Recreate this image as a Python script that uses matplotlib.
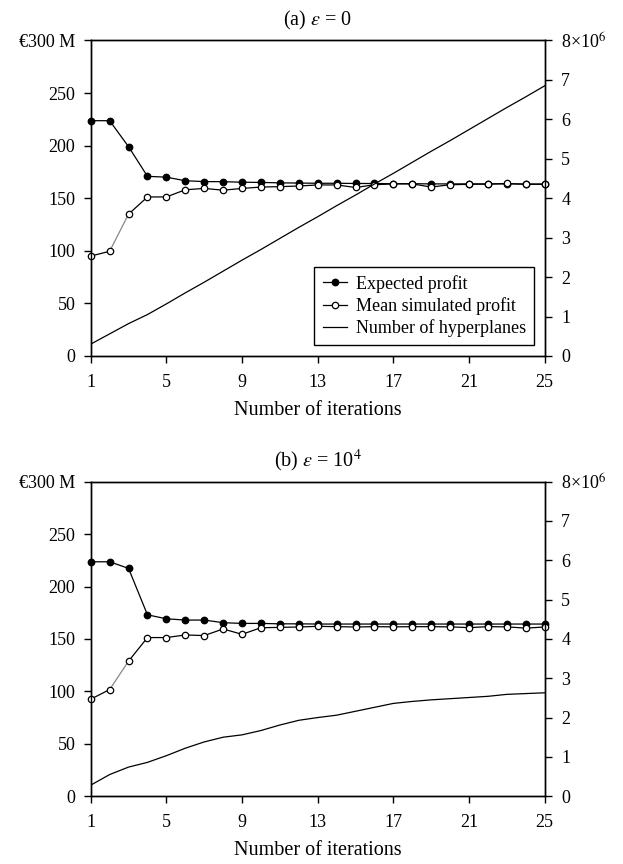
import matplotlib
matplotlib.use("Agg")
import matplotlib.pyplot as plt
from matplotlib.lines import Line2D

plt.rcParams['font.family'] = ['Liberation Serif', 'DejaVu Serif']
plt.rcParams['mathtext.fontset'] = 'stix'

iterations = list(range(1, 26))

# panel (a), epsilon = 0
expected_a = [223.7, 223.7, 199.0, 170.8, 170.0, 166.6, 165.8, 165.7, 165.2, 165.0,
              164.6, 164.4, 164.2, 164.2, 164.0, 164.0, 163.8, 163.8, 163.6, 163.6,
              163.6, 163.6, 163.6, 163.5, 163.5]
simulated_a = [95.0, 99.5, 134.8, 151.2, 151.2, 158.0, 159.3, 157.6, 159.3, 160.6,
               161.0, 161.6, 162.6, 162.6, 160.2, 162.8, 163.6, 163.6, 160.6, 162.8,
               163.2, 163.4, 164.0, 163.2, 163.2]
hyperplanes_a = [0.30, 0.56, 0.82, 1.05, 1.32, 1.60, 1.87, 2.15, 2.43, 2.70,
                 2.98, 3.26, 3.53, 3.81, 4.08, 4.36, 4.63, 4.91, 5.19, 5.46,
                 5.74, 6.02, 6.30, 6.57, 6.85]

# panel (b), epsilon = 10^4
expected_b = [223.6, 223.6, 217.3, 173.0, 169.2, 168.0, 168.0, 165.5, 164.8, 164.8,
              164.4, 164.4, 164.2, 164.2, 164.2, 164.2, 164.2, 164.2, 164.2, 164.2,
              164.2, 164.2, 164.2, 164.2, 164.2]
simulated_b = [92.5, 101.7, 128.8, 151.3, 151.3, 153.8, 153.2, 159.5, 154.4, 160.7,
               161.0, 161.4, 162.0, 161.7, 161.4, 161.7, 161.5, 161.7, 161.7, 161.5,
               160.8, 161.7, 161.5, 160.3, 161.4]
hyperplanes_b = [0.28, 0.55, 0.74, 0.86, 1.03, 1.22, 1.38, 1.50, 1.56, 1.67,
                 1.81, 1.93, 2.00, 2.06, 2.16, 2.26, 2.36, 2.41, 2.45, 2.48,
                 2.51, 2.54, 2.59, 2.61, 2.63]

left_ticks = [0, 50, 100, 150, 200, 250, 300]
left_labels = ['0', '50', '100', '150', '200', '250', '€300 M']
right_ticks = [0, 1, 2, 3, 4, 5, 6, 7, 8]
right_labels = ['0', '1', '2', '3', '4', '5', '6', '7', r'8×10$^{6}$']
x_ticks = [1, 5, 9, 13, 17, 21, 25]

TICK_FS = 13
LABEL_FS = 14.5


def draw_panel(ax, title, expected, simulated, hyperplanes, legend=False):
    lw = 0.9
    ms = 4.6
    ax.plot(iterations, expected, color='black', lw=lw, marker='o', ms=ms,
            mfc='black', mec='black', clip_on=False, zorder=4)
    # the segment between iterations 2 and 3 is grey in the original
    ax.plot(iterations[:2], simulated[:2], color='black', lw=lw, zorder=3)
    ax.plot(iterations[1:3], simulated[1:3], color='#888888', lw=lw, zorder=3)
    ax.plot(iterations[2:], simulated[2:], color='black', lw=lw, zorder=3)
    ax.plot(iterations, simulated, ls='none', marker='o', ms=ms, mfc='white',
            mec='black', mew=0.9, clip_on=False, zorder=5)

    ax.set_xlim(1, 25)
    ax.set_ylim(0, 300)
    ax.set_xticks(x_ticks)
    ax.set_yticks(left_ticks)
    ax.set_yticklabels(left_labels)
    ax.tick_params(direction='out', length=5, width=1, labelsize=TICK_FS)
    ax.tick_params(axis='x', pad=8)
    ax.tick_params(axis='y', pad=6)
    ax.set_xlabel('Number of iterations', fontsize=LABEL_FS, labelpad=7)
    ax.set_title(title, fontsize=LABEL_FS, pad=11)
    for s in ax.spines.values():
        s.set_linewidth(1)

    ax2 = ax.twinx()
    ax2.plot(iterations, hyperplanes, color='black', lw=lw)
    ax2.set_ylim(0, 8)
    ax2.set_yticks(right_ticks)
    ax2.set_yticklabels(right_labels)
    ax2.tick_params(direction='out', length=5, width=1, labelsize=TICK_FS, pad=7)
    for s in ax2.spines.values():
        s.set_linewidth(1)

    if legend:
        handles = [
            Line2D([], [], color='black', lw=lw, marker='o', ms=ms, mfc='black'),
            Line2D([], [], color='black', lw=lw, marker='o', ms=ms, mfc='white', mew=0.9),
            Line2D([], [], color='black', lw=lw),
        ]
        labels = ['Expected profit', 'Mean simulated profit', 'Number of hyperplanes']
        leg = ax2.legend(handles, labels, loc='lower right', fontsize=TICK_FS,
                         fancybox=False, framealpha=1, edgecolor='black',
                         borderaxespad=0.58, borderpad=0.45, labelspacing=0.25,
                         handlelength=1.35, handletextpad=0.5)
        leg.get_frame().set_linewidth(1)


fig = plt.figure(figsize=(6.23, 8.64), dpi=100)
ax_a = fig.add_axes([0.1456, 0.5880, 0.7287, 0.3652])
ax_b = fig.add_axes([0.1456, 0.0785, 0.7287, 0.3640])

draw_panel(ax_a, r'(a) $\varepsilon$ = 0', expected_a, simulated_a, hyperplanes_a, legend=True)
draw_panel(ax_b, r'(b) $\varepsilon$ = 10$^{4}$', expected_b, simulated_b, hyperplanes_b)

fig.savefig('out.png', dpi=100)
